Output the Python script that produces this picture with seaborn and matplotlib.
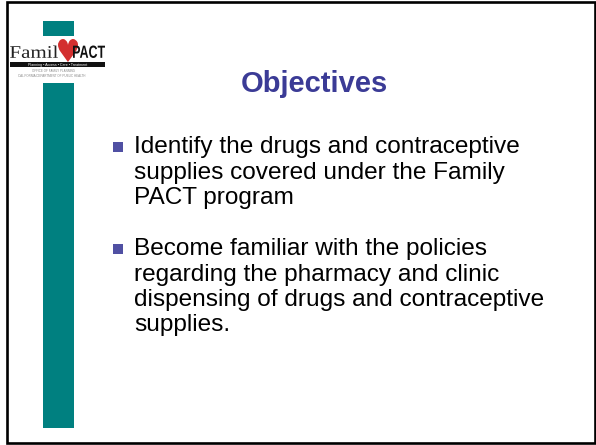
import matplotlib
matplotlib.use("Agg")
import matplotlib.pyplot as plt
import matplotlib.transforms as mtransforms
import seaborn as sns
import pandas as pd
from matplotlib.patches import Rectangle, PathPatch
from matplotlib.textpath import TextPath
from matplotlib.font_manager import FontProperties

# slide content
title = "Objectives"
bullets = [
    ["Identify the drugs and contraceptive",
     "supplies covered under the Family",
     "PACT program"],
    ["Become familiar with the policies",
     "regarding the pharmacy and clinic",
     "dispensing of drugs and contraceptive",
     "supplies."],
]
logo_word = "Famil"
logo_pact = "PACT"
logo_tagline = "Planning \u2022 Access \u2022 Care \u2022 Treatment"
logo_small = ["OFFICE OF FAMILY PLANNING", "CALIFORNIA DEPARTMENT OF PUBLIC HEALTH"]

sns.set_theme(style="white")
plt.rcParams["font.family"] = ["Liberation Sans", "DejaVu Sans"]

TEAL = "#008080"
NAVY = "#3B3B96"
BULLET = "#5050A3"


def fitted_text(ax, s, x0, x1, top, bottom, prop, color):
    # squeeze a text outline into a box (y axis runs downwards)
    tp = TextPath((0, 0), s, size=100, prop=prop)
    bb = tp.get_extents()
    sx = (x1 - x0) / bb.width
    sy = (bottom - top) / bb.height
    tr = (mtransforms.Affine2D().translate(-bb.x0, -bb.y0)
          .scale(sx, -sy).translate(x0, bottom))
    ax.add_patch(PathPatch(tr.transform_path(tp), fc=color, lw=0))


fig = plt.figure(figsize=(5.96, 4.45), dpi=100)
ax = fig.add_axes([0, 0, 1, 1])
ax.set_xlim(0, 596)
ax.set_ylim(445, 0)
ax.axis("off")

# teal side bar, interrupted by the logo
ax.add_patch(Rectangle((43, 21), 31, 15, color=TEAL, lw=0))
ax.add_patch(Rectangle((43, 83), 31, 345, color=TEAL, lw=0))

# logo
fitted_text(ax, logo_word, 10, 58, 45.5, 58,
            FontProperties(family="Liberation Serif"), "#222222")
fitted_text(ax, "\u2665", 58, 78, 39, 62,
            FontProperties(family="DejaVu Sans"), "#D32F2F")
fitted_text(ax, logo_pact, 73, 105, 45.5, 58,
            FontProperties(family="Liberation Sans", weight="bold"), "#111111")
ax.add_patch(Rectangle((10, 61.8), 95, 5.4, color="#111111", lw=0))
ax.text(57.5, 64.6, logo_tagline, fontsize=2.6, color="white",
        va="center", ha="center")
ax.text(53, 71, logo_small[0], fontsize=2.2, color="#888888",
        va="center", ha="center")
ax.text(52, 76, logo_small[1], fontsize=2.2, color="#888888",
        va="center", ha="center")

# title
ax.text(314, 92, title, fontsize=21, weight="bold", color=NAVY,
        ha="center", va="baseline")

# bullet text
step = 25.5
rows = []
y = 153
for para in bullets:
    rows.append({"x": 117.5, "y": y - 6.5})
    for line in para:
        ax.text(134, y, line, fontsize=17.6, color="black",
                ha="left", va="baseline")
        y += step
    y += step
bdf = pd.DataFrame(rows)
sns.scatterplot(data=bdf, x="x", y="y", marker="s", s=44, color=BULLET,
                linewidth=0, ax=ax, legend=False)

# slide frame
ax.add_patch(Rectangle((7, 2), 588, 440.5, fill=False, ec="black", lw=1.9))

ax.set_xlim(0, 596)
ax.set_ylim(445, 0)
ax.axis("off")
fig.savefig("out.png", dpi=100)
